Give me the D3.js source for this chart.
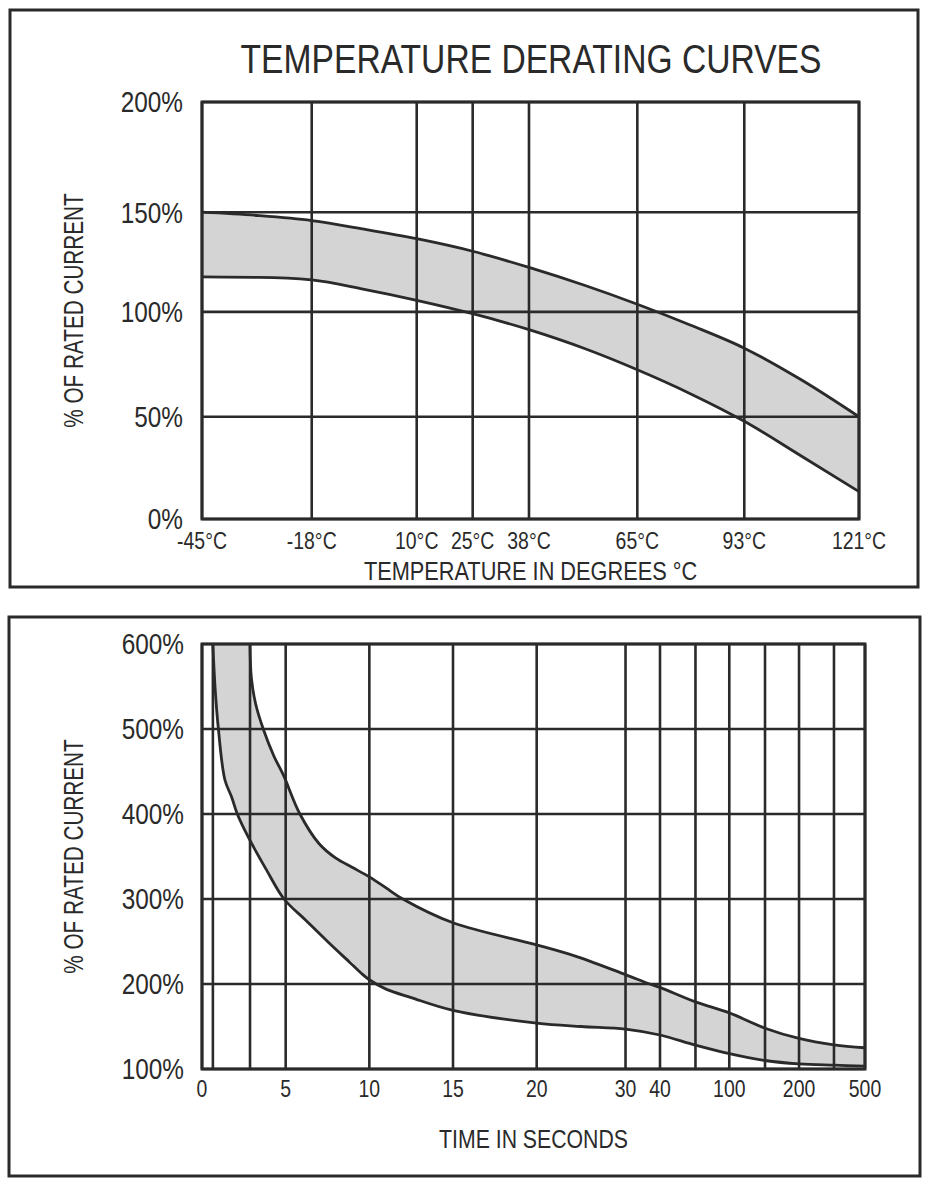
<!DOCTYPE html>
<html>
<head>
<meta charset="utf-8">
<script src="https://cdn.jsdelivr.net/npm/d3@7/dist/d3.min.js"></script>
<style>
  html, body { margin: 0; padding: 0; background: #ffffff; }
  svg text { font-family: 'Liberation Sans', Arial, sans-serif; fill: #2a2a2a; }
</style>
</head>
<body>
<svg id="chart" width="937" height="1200"></svg>
<script>
// ---------------- DATA ----------------
// Chart 1: temperature derating
const tempTicks = [-45, -18, 10, 25, 38, 65, 93, 121];
const tempTickLabels = ["-45°C", "-18°C", "10°C", "25°C", "38°C", "65°C", "93°C", "121°C"];
const ratedTicks1 = [0, 50, 100, 150, 200];
const ratedTickLabels1 = ["0%", "50%", "100%", "150%", "200%"];
const tempC = [-45, -31, -18, -4, 10, 25, 38, 52, 65, 79, 93, 107, 121];
const deratingUpper = [150, 148.3, 145.8, 141.5, 136.7, 130.4, 122.3, 113.2, 103.8, 93.6, 82.7, 67.5, 50];
const deratingLower = [117.5, 117.3, 116, 111.3, 105.8, 99.1, 91.5, 82.4, 72.4, 60.9, 47.8, 30.7, 13.4];

// Chart 2: time vs current
const timeGrid = [0, 0.65, 2.87, 5, 10, 15, 20, 30, 40, 70, 100, 150, 200, 300, 500];
const timeTicks = [0, 5, 10, 15, 20, 30, 40, 100, 200, 500];
const timeTickLabels = ["0", "5", "10", "15", "20", "30", "40", "100", "200", "500"];
const ratedTicks2 = [100, 200, 300, 400, 500, 600];
const ratedTickLabels2 = ["100%", "200%", "300%", "400%", "500%", "600%"];
const upperTime = [2.87, 2.95, 3.2, 3.66, 4.3, 4.86, 5.85, 7.0, 8.0, 9.0, 10, 11, 12, 15, 20, 24.6, 30, 37, 40, 70, 100, 150, 200, 300, 500];
const upperPct  = [600, 560, 530, 500, 468, 446, 400, 365, 348, 337, 326, 313, 300, 272, 246, 232, 211, 200, 196, 179, 166, 148, 136, 128.5, 125];
const lowerTime = [0.65, 0.78, 0.98, 1.37, 1.77, 2.11, 2.76, 3.86, 4.9, 6.2, 7.5, 8.8, 9.5, 10, 11, 12.5, 15, 20, 25, 30, 40, 70, 100, 150, 200, 300, 500];
const lowerPct  = [600, 549, 500, 440, 420, 400, 373, 334, 300, 275, 250, 226, 213, 205, 194, 184, 169, 154, 150, 147, 140, 128, 118, 110, 106, 104.5, 103.5];

// ---------------- SCALE CONFIG (hand-drawn, non-uniform axes) ----------------
const tempAxisFrac = [0, 0.1670, 0.3268, 0.4120, 0.4977, 0.6626, 0.8254, 1];
const rated1AxisFrac = [0, 0.2451, 0.4968, 0.7357, 1];
const timeAxisBreaks = [0, 20, 30, 40, 70, 100, 150, 200, 300, 500];
const timeAxisFrac = [0, 0.5048, 0.6388, 0.6908, 0.7443, 0.7953, 0.8492, 0.9005, 0.9532, 1];

function piecewise(domain, fracs, r0, r1) {
  return d3.scaleLinear().domain(domain).range(fracs.map(f => r0 + f * (r1 - r0)));
}

const INK = "#2a2a2a";
const FILL = "#d4d4d4";
const svg = d3.select("#chart");

// condensed text helper (narrow face emulated by horizontal scaling)
function label(g, x, y, str, size, sx, anchor, rot, dy) {
  const t = g.append("text")
    .attr("transform", `translate(${x},${y})` + (rot ? ` rotate(${rot})` : "") + ` scale(${sx},1)`)
    .attr("text-anchor", anchor).attr("font-size", size).text(str);
  if (dy) t.attr("dy", dy);
  return t;
}

// ---------------- CHART 1 ----------------
{
  const frame = { x: 10, y: 10, w: 908, h: 577 };
  const L = 202, R = 859, T = 102, B = 519;
  const g = svg.append("g");
  g.append("rect").attr("x", frame.x).attr("y", frame.y).attr("width", frame.w).attr("height", frame.h)
    .attr("fill", "none").attr("stroke", INK).attr("stroke-width", 3);

  const x = piecewise(tempTicks, tempAxisFrac, L, R);
  const y = piecewise(ratedTicks1, rated1AxisFrac, B, T);

  const pts = tempC.map((t, i) => ({ t, u: deratingUpper[i], l: deratingLower[i] }));
  const area = d3.area().x(d => x(d.t)).y0(d => y(d.l)).y1(d => y(d.u)).curve(d3.curveMonotoneX);
  g.append("path").datum(pts).attr("d", area).attr("fill", FILL);

  g.append("g").selectAll("line").data(tempTicks).join("line")
    .attr("x1", d => x(d)).attr("x2", d => x(d)).attr("y1", T).attr("y2", B)
    .attr("stroke", INK).attr("stroke-width", 2.6);
  g.append("g").selectAll("line").data(ratedTicks1).join("line")
    .attr("x1", L).attr("x2", R).attr("y1", d => y(d)).attr("y2", d => y(d))
    .attr("stroke", INK).attr("stroke-width", 2.6);

  const lineU = d3.line().x(d => x(d.t)).y(d => y(d.u)).curve(d3.curveMonotoneX);
  const lineL = d3.line().x(d => x(d.t)).y(d => y(d.l)).curve(d3.curveMonotoneX);
  g.append("path").datum(pts).attr("d", lineU).attr("fill", "none").attr("stroke", INK).attr("stroke-width", 2.8);
  g.append("path").datum(pts).attr("d", lineL).attr("fill", "none").attr("stroke", INK).attr("stroke-width", 2.8);

  g.append("rect").attr("x", L).attr("y", T).attr("width", R - L).attr("height", B - T)
    .attr("fill", "none").attr("stroke", INK).attr("stroke-width", 3);

  const tx = g.append("g");
  tempTicks.forEach((d, i) => label(tx, x(d), 549, tempTickLabels[i], 24, 0.81, "middle"));
  const ty = g.append("g");
  ratedTicks1.forEach((d, i) => label(ty, 183, y(d), ratedTickLabels1[i], 29, 0.84, "end", 0, "0.36em"));

  label(g, 531, 73, "TEMPERATURE DERATING CURVES", 41, 0.82, "middle");
  label(g, (L + R) / 2, 580, "TEMPERATURE IN DEGREES °C", 25, 0.87, "middle");
  label(g, 83, (T + B) / 2, "% OF RATED CURRENT", 28, 0.74, "middle", -90);
}

// ---------------- CHART 2 ----------------
{
  const frame = { x: 9, y: 617, w: 911, h: 559 };
  const L = 202, R = 865, T = 644, B = 1069;
  const g = svg.append("g");
  g.append("rect").attr("x", frame.x).attr("y", frame.y).attr("width", frame.w).attr("height", frame.h)
    .attr("fill", "none").attr("stroke", INK).attr("stroke-width", 3);

  const x = piecewise(timeAxisBreaks, timeAxisFrac, L, R);
  const y = d3.scaleLinear().domain([100, 600]).range([B, T]);

  const up = upperTime.map((t, i) => [x(t), y(upperPct[i])]);
  const lo = lowerTime.map((t, i) => [x(t), y(lowerPct[i])]);
  const line = d3.line().curve(d3.curveCatmullRom.alpha(0.5));
  const fillD = line(up) + line(lo.slice().reverse()).replace(/^M/, "L") + "Z";
  g.append("path").attr("d", fillD).attr("fill", FILL);

  g.append("g").selectAll("line").data(timeGrid).join("line")
    .attr("x1", d => x(d)).attr("x2", d => x(d)).attr("y1", T).attr("y2", B)
    .attr("stroke", INK).attr("stroke-width", 2.6);
  g.append("g").selectAll("line").data(ratedTicks2).join("line")
    .attr("x1", L).attr("x2", R).attr("y1", d => y(d)).attr("y2", d => y(d))
    .attr("stroke", INK).attr("stroke-width", 2.6);

  g.append("path").attr("d", line(up)).attr("fill", "none").attr("stroke", INK).attr("stroke-width", 2.8);
  g.append("path").attr("d", line(lo)).attr("fill", "none").attr("stroke", INK).attr("stroke-width", 2.8);

  g.append("rect").attr("x", L).attr("y", T).attr("width", R - L).attr("height", B - T)
    .attr("fill", "none").attr("stroke", INK).attr("stroke-width", 3);

  const tx = g.append("g");
  timeTicks.forEach((d, i) => label(tx, x(d), 1097, timeTickLabels[i], 24, 0.81, "middle"));
  const ty = g.append("g");
  ratedTicks2.forEach((d, i) => label(ty, 184, y(d), ratedTickLabels2[i], 29, 0.84, "end", 0, "0.36em"));

  label(g, (L + R) / 2, 1148, "TIME IN SECONDS", 25, 0.85, "middle");
  label(g, 83, (T + B) / 2, "% OF RATED CURRENT", 28, 0.74, "middle", -90);
}
</script>
</body>
</html>
